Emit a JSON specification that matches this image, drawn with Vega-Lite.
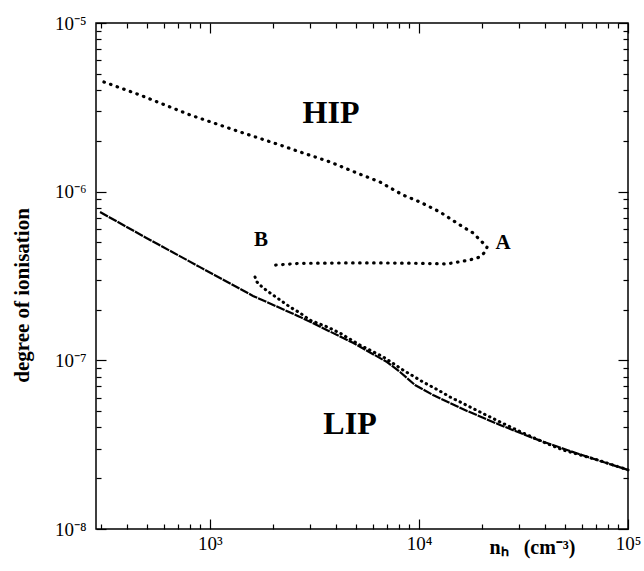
{
  "$schema": "https://vega.github.io/schema/vega-lite/v6.json",
  "width": 532,
  "height": 506,
  "autosize": {"type": "none"},
  "padding": {"left": 96, "top": 23, "right": 16, "bottom": 42},
  "background": "white",
  "config": {
    "view": {"stroke": "black", "strokeWidth": 1.5},
    "axis": {
      "grid": false,
      "domain": false,
      "tickColor": "black",
      "tickWidth": 1.2,
      "labelFont": "Liberation Serif",
      "labelFontSize": 19,
      "labelColor": "black",
      "labelFlush": false,
      "labelOverlap": false,
      "titleFont": "Liberation Serif",
      "titleColor": "black",
      "titleFontWeight": "bold"
    }
  },
  "datasets": {
    "low": [
      {"n": 298, "ion": 7.57e-7},
      {"n": 517, "ion": 5.17e-7},
      {"n": 896, "ion": 3.57e-7},
      {"n": 1607, "ion": 2.41e-7},
      {"n": 2697, "ion": 1.81e-7},
      {"n": 4835, "ion": 1.27e-7},
      {"n": 7034, "ion": 9.77e-8},
      {"n": 8115, "ion": 8.53e-8},
      {"n": 9574, "ion": 7.14e-8},
      {"n": 11675, "ion": 6.23e-8},
      {"n": 16980, "ion": 5.01e-8},
      {"n": 24427, "ion": 4.14e-8},
      {"n": 35136, "ion": 3.46e-8},
      {"n": 51105, "ion": 2.94e-8},
      {"n": 73510, "ion": 2.53e-8},
      {"n": 100000, "ion": 2.24e-8}
    ],
    "hip": [
      {"i": 1, "n": 311, "ion": 4.47e-6},
      {"i": 2, "n": 463, "ion": 3.74e-6},
      {"i": 3, "n": 803, "ion": 2.85e-6},
      {"i": 4, "n": 1393, "ion": 2.26e-6},
      {"i": 5, "n": 2164, "ion": 1.89e-6},
      {"i": 6, "n": 2697, "ion": 1.72e-6},
      {"i": 7, "n": 3753, "ion": 1.50e-6},
      {"i": 8, "n": 5052, "ion": 1.29e-6},
      {"i": 9, "n": 6512, "ion": 1.14e-6},
      {"i": 10, "n": 8388, "ion": 9.55e-7},
      {"i": 11, "n": 10116, "ion": 8.68e-7},
      {"i": 12, "n": 12610, "ion": 7.57e-7},
      {"i": 13, "n": 15720, "ion": 6.34e-7},
      {"i": 14, "n": 18144, "ion": 5.69e-7},
      {"i": 15, "n": 19598, "ion": 5.17e-7},
      {"i": 16, "n": 21169, "ion": 4.70e-7},
      {"i": 17, "n": 20706, "ion": 4.39e-7},
      {"i": 18, "n": 19598, "ion": 4.10e-7},
      {"i": 19, "n": 17552, "ion": 3.94e-7},
      {"i": 20, "n": 13625, "ion": 3.73e-7},
      {"i": 21, "n": 10116, "ion": 3.76e-7},
      {"i": 22, "n": 6730, "ion": 3.78e-7},
      {"i": 23, "n": 4679, "ion": 3.78e-7},
      {"i": 24, "n": 2697, "ion": 3.76e-7},
      {"i": 25, "n": 2048, "ion": 3.67e-7}
    ],
    "lip": [
      {"n": 1643, "ion": 3.12e-7},
      {"n": 1680, "ion": 2.91e-7},
      {"n": 1794, "ion": 2.69e-7},
      {"n": 1938, "ion": 2.51e-7},
      {"n": 2164, "ion": 2.28e-7},
      {"n": 2416, "ion": 2.07e-7},
      {"n": 2697, "ion": 1.91e-7},
      {"n": 3011, "ion": 1.73e-7},
      {"n": 3632, "ion": 1.58e-7},
      {"n": 4192, "ion": 1.45e-7},
      {"n": 5224, "ion": 1.23e-7},
      {"n": 6730, "ion": 1.05e-7},
      {"n": 8388, "ion": 8.76e-8},
      {"n": 10457, "ion": 7.44e-8},
      {"n": 12337, "ion": 6.67e-8},
      {"n": 14084, "ion": 6.06e-8},
      {"n": 16069, "ion": 5.59e-8},
      {"n": 19598, "ion": 4.94e-8},
      {"n": 24427, "ion": 4.31e-8},
      {"n": 31476, "ion": 3.71e-8},
      {"n": 39237, "ion": 3.28e-8},
      {"n": 48894, "ion": 2.94e-8},
      {"n": 73510, "ion": 2.54e-8},
      {"n": 100000, "ion": 2.24e-8}
    ],
    "labels": [
      {"label": "HIP", "n": 3795, "ion": 2.93e-6},
      {"label": "LIP", "n": 4679, "ion": 4.19e-8},
      {"label": "A", "n": 25240, "ion": 4.96e-7},
      {"label": "B", "n": 1755, "ion": 5.17e-7}
    ]
  },
  "layer": [
    {
      "data": {"name": "low"},
      "mark": {"type": "line", "color": "black", "strokeWidth": 2.2, "strokeDash": [9, 1]},
      "encoding": {
        "x": {
          "field": "n", "type": "quantitative",
          "scale": {"type": "log", "domain": [285, 100000], "nice": false},
          "axis": {
            "orient": "bottom",
            "offset": -10,
            "values": [1000, 10000, 100000],
            "tickSize": 10,
            "labelPadding": 5,
            "labelExpr": "datum.value < 5000 ? '10³' : datum.value < 50000 ? '10⁴' : '10⁵'",
            "title": "nₕ\u00a0\u00a0\u00a0(cm⁻³)",
            "titleFontSize": 20,
            "titleAlign": "center",
            "titleBaseline": "alphabetic",
            "titleX": 436,
            "titleY": 34
          }
        },
        "y": {
          "field": "ion", "type": "quantitative",
          "scale": {"type": "log", "domain": [1e-8, 1e-5], "nice": false},
          "axis": {
            "orient": "left",
            "offset": -10,
            "values": [1e-8, 1e-7, 1e-6, 1e-5],
            "tickSize": 10,
            "labelPadding": 10,
            "labelExpr": "datum.value > 5e-6 ? '10⁻⁵' : datum.value > 5e-7 ? '10⁻⁶' : datum.value > 5e-8 ? '10⁻⁷' : '10⁻⁸'",
            "title": "degree of ionisation",
            "titleFontSize": 21,
            "titleAngle": -90,
            "titleAlign": "center",
            "titleBaseline": "middle",
            "titleX": -84,
            "titleY": 272
          }
        }
      }
    },
    {
      "data": {"name": "hip"},
      "mark": {"type": "line", "color": "black", "strokeWidth": 3.2, "strokeCap": "round", "strokeDash": [0.5, 6.5]},
      "encoding": {
        "x": {
          "field": "n", "type": "quantitative",
          "scale": {"type": "log", "domain": [285, 100000], "nice": false},
          "axis": {"orient": "top", "offset": -10, "values": [1000, 10000, 100000], "tickSize": 10, "labels": false, "title": null}
        },
        "y": {
          "field": "ion", "type": "quantitative",
          "scale": {"type": "log", "domain": [1e-8, 1e-5], "nice": false},
          "axis": {"orient": "right", "offset": -10, "values": [1e-8, 1e-7, 1e-6, 1e-5], "tickSize": 10, "labels": false, "title": null}
        },
        "order": {"field": "i"}
      }
    },
    {
      "data": {"name": "lip"},
      "mark": {"type": "line", "color": "black", "strokeWidth": 3, "strokeCap": "round", "strokeDash": [0.5, 5]},
      "encoding": {
        "x": {
          "field": "n", "type": "quantitative",
          "scale": {"type": "log", "domain": [285, 100000], "nice": false},
          "axis": {"orient": "bottom", "offset": -5, "values": [300, 400, 500, 600, 700, 800, 900, 2000, 3000, 4000, 5000, 6000, 7000, 8000, 9000, 20000, 30000, 40000, 50000, 60000, 70000, 80000, 90000], "tickSize": 5, "labels": false, "title": null}
        },
        "y": {
          "field": "ion", "type": "quantitative",
          "scale": {"type": "log", "domain": [1e-8, 1e-5], "nice": false},
          "axis": {"orient": "left", "offset": -5, "values": [2e-8, 3e-8, 4e-8, 5e-8, 6e-8, 7e-8, 8e-8, 9e-8, 2e-7, 3e-7, 4e-7, 5e-7, 6e-7, 7e-7, 8e-7, 9e-7, 2e-6, 3e-6, 4e-6, 5e-6, 6e-6, 7e-6, 8e-6, 9e-6], "tickSize": 5, "labels": false, "title": null}
        }
      }
    },
    {
      "data": {"name": "labels"},
      "transform": [{"filter": "length(datum.label) == 3"}],
      "mark": {"type": "text", "font": "Liberation Serif", "fontWeight": "bold", "fontSize": 32, "color": "black", "align": "center", "baseline": "middle"},
      "encoding": {
        "x": {
          "field": "n", "type": "quantitative",
          "scale": {"type": "log", "domain": [285, 100000], "nice": false},
          "axis": {"orient": "top", "offset": -5, "values": [300, 400, 500, 600, 700, 800, 900, 2000, 3000, 4000, 5000, 6000, 7000, 8000, 9000, 20000, 30000, 40000, 50000, 60000, 70000, 80000, 90000], "tickSize": 5, "labels": false, "title": null}
        },
        "y": {
          "field": "ion", "type": "quantitative",
          "scale": {"type": "log", "domain": [1e-8, 1e-5], "nice": false},
          "axis": {"orient": "right", "offset": -5, "values": [2e-8, 3e-8, 4e-8, 5e-8, 6e-8, 7e-8, 8e-8, 9e-8, 2e-7, 3e-7, 4e-7, 5e-7, 6e-7, 7e-7, 8e-7, 9e-7, 2e-6, 3e-6, 4e-6, 5e-6, 6e-6, 7e-6, 8e-6, 9e-6], "tickSize": 5, "labels": false, "title": null}
        },
        "text": {"field": "label"}
      }
    },
    {
      "data": {"name": "labels"},
      "transform": [{"filter": "length(datum.label) == 1"}],
      "mark": {"type": "text", "font": "Liberation Serif", "fontWeight": "bold", "fontSize": 21, "color": "black", "align": "center", "baseline": "middle"},
      "encoding": {
        "x": {"field": "n", "type": "quantitative", "scale": {"type": "log", "domain": [285, 100000], "nice": false}, "axis": null},
        "y": {"field": "ion", "type": "quantitative", "scale": {"type": "log", "domain": [1e-8, 1e-5], "nice": false}, "axis": null},
        "text": {"field": "label"}
      }
    }
  ],
  "resolve": {"axis": {"x": "independent", "y": "independent"}}
}
